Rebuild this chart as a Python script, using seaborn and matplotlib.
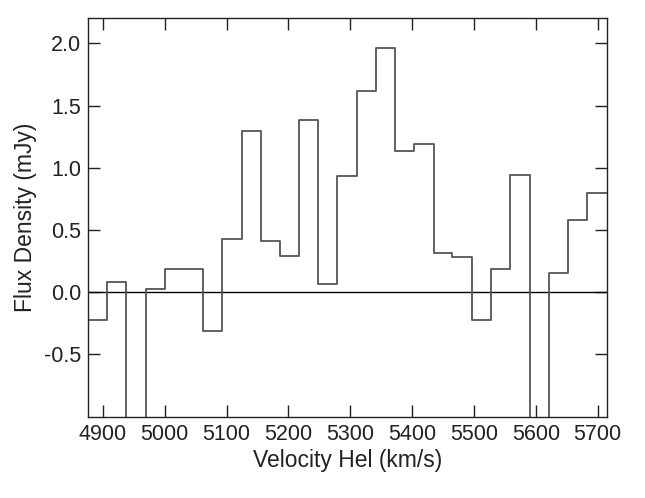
# Step spectrum: flux density vs heliocentric velocity
import numpy as np
import pandas as pd
import seaborn as sns
import matplotlib
matplotlib.use("Agg")
import matplotlib.pyplot as plt

# channel edges (km/s)
edges = [4876.0, 4906.5, 4937.7, 4969.5, 5000.7, 5031.4, 5062.6, 5093.3,
         5124.6, 5155.4, 5186.6, 5217.3, 5248.5, 5279.2, 5310.5, 5341.2,
         5372.4, 5403.6, 5435.0, 5465.0, 5496.9, 5527.6, 5558.8, 5590.0,
         5621.2, 5652.4, 5683.2, 5714.5]

# flux per channel (mJy); two channels drop below the plot floor
flux = [-0.22, 0.083, -1.4, 0.027, 0.185, 0.19, -0.31, 0.426,
        1.297, 0.41, 0.29, 1.38, 0.07, 0.935, 1.616, 1.959,
        1.133, 1.187, 0.316, 0.284, -0.225, 0.185, 0.94, -1.4,
        0.153, 0.584, 0.80]

x_ticks = [4900, 5000, 5100, 5200, 5300, 5400, 5500, 5600, 5700]
y_ticks = [-0.5, 0.0, 0.5, 1.0, 1.5, 2.0]

sns.set_style("ticks")
plt.rcParams['font.family'] = ['Liberation Sans', 'DejaVu Sans']

df = pd.DataFrame({'velocity': edges, 'flux': flux + [flux[-1]]})

fig = plt.figure(figsize=(6.45, 4.98), dpi=100)
ax = fig.add_axes([0.1364, 0.1633, 0.9406 - 0.1364, 0.9645 - 0.1633])

ax.axhline(0.0, color='black', lw=1.0, zorder=1)
sns.lineplot(data=df, x='velocity', y='flux', drawstyle='steps-post',
             estimator=None, sort=False, color='#555555', lw=1.3, ax=ax,
             zorder=2)

ax.set_xlim(4876, 5714.5)
ax.set_ylim(-1.0, 2.206)
ax.set_xticks(x_ticks)
ax.set_yticks(y_ticks)
ax.set_xticklabels([str(t) for t in x_ticks])
ax.set_yticklabels([f"{t:.1f}" for t in y_ticks])

ax.tick_params(direction='in', length=8.6, width=1.0, top=True, right=True,
               labelsize=15.5, pad=5, colors='#222222')
for s in ax.spines.values():
    s.set_visible(True)
    s.set_linewidth(1.0)
    s.set_color('#222222')

ax.set_xlabel('Velocity Hel (km/s)', fontsize=16.5, color='#222222', labelpad=3)
ax.set_ylabel('Flux Density (mJy)', fontsize=16.5, color='#222222', labelpad=5)

fig.savefig('out.png', dpi=100)
